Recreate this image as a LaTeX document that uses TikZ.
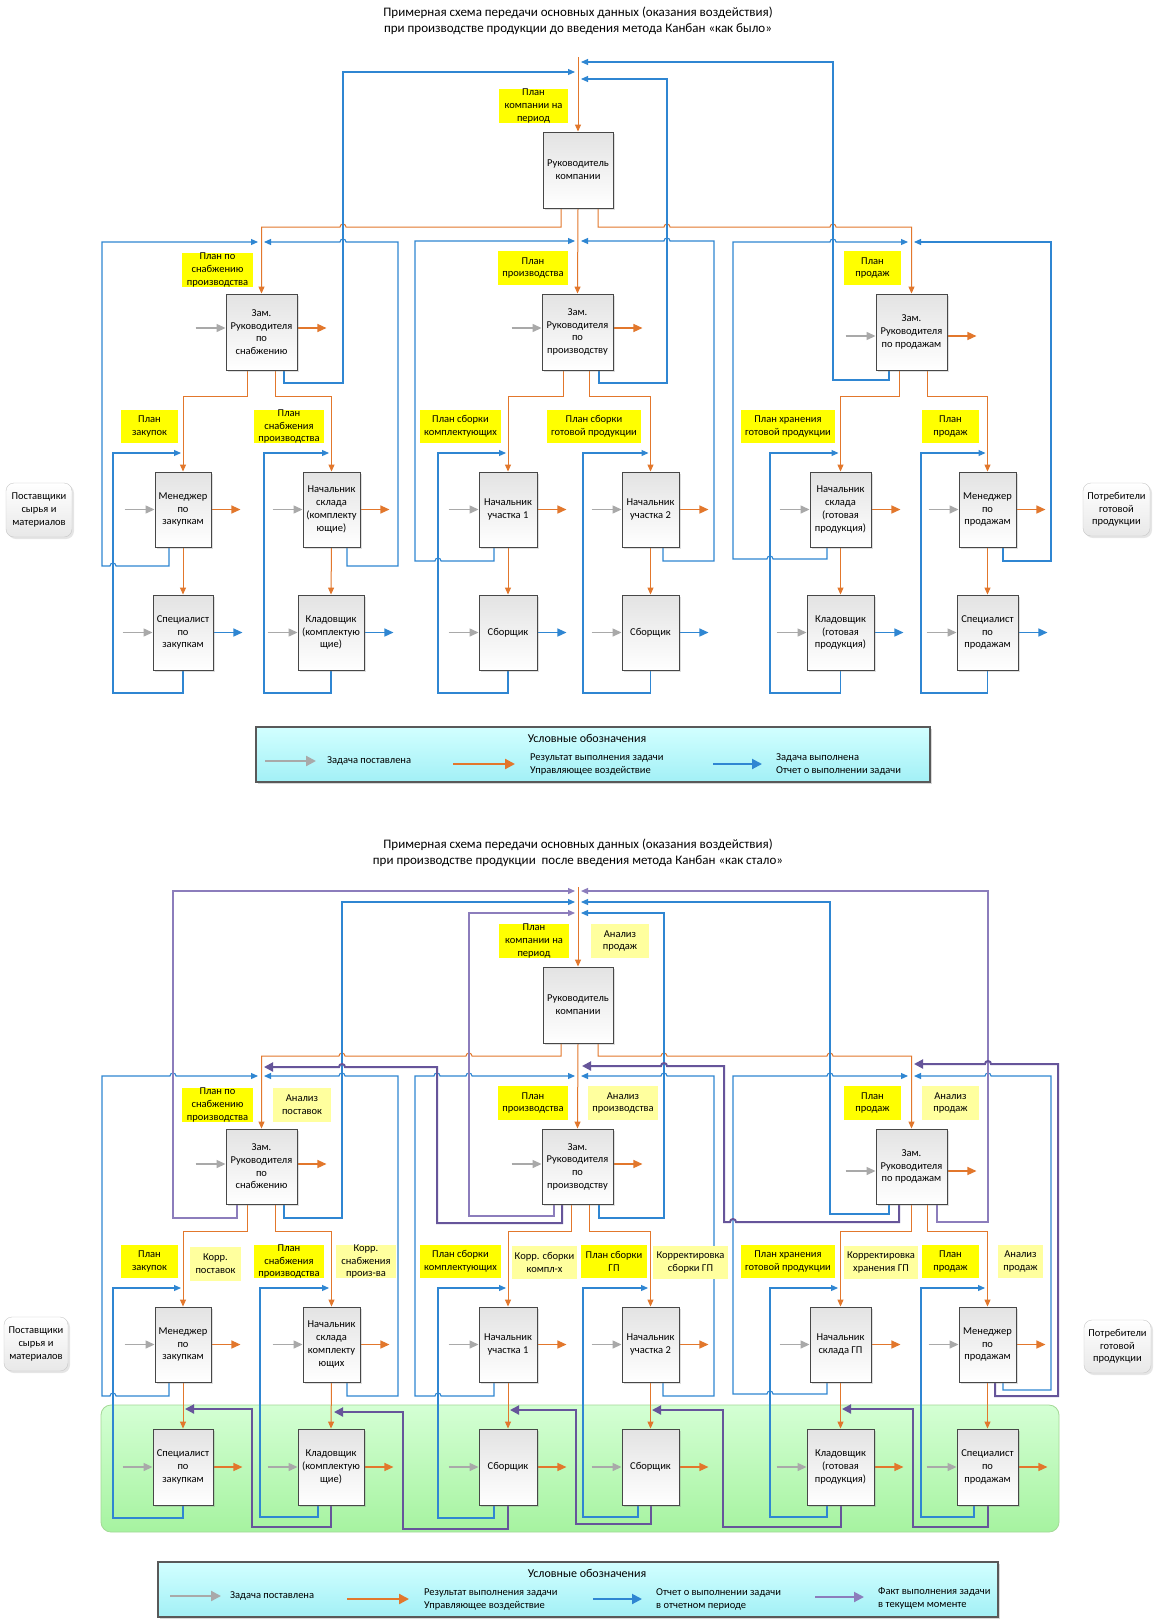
\documentclass[tikz,border=0pt]{standalone}
\usepackage{fontspec}
\setmainfont{Carlito}
\usetikzlibrary{arrows.meta,shadows}
\definecolor{cOr}{HTML}{E2772C}
\definecolor{cBl}{HTML}{2F86D2}
\definecolor{cPk}{HTML}{66559A}
\definecolor{cPt}{HTML}{8C7DBC}
\definecolor{cGr}{HTML}{A9A9A9}
\definecolor{cYe}{HTML}{FFFF00}
\definecolor{cYl}{HTML}{FFFF9E}
\definecolor{cLgT}{HTML}{D2FFFF}
\definecolor{cLgB}{HTML}{A2F0F6}
\definecolor{cGnT}{HTML}{D4FFD4}
\definecolor{cGnB}{HTML}{A6F3A0}
\definecolor{cGnD}{HTML}{A3D996}
\pgfdeclarelayer{zone}
\pgfdeclarelayer{lines}
\pgfsetlayers{zone,lines,main}
\newcommand\bx{\fontsize{10.5}{12.7}\selectfont}
\newcommand\ttl{\fontsize{13}{16}\selectfont}
\newcommand\lgt{\fontsize{12}{14}\selectfont}
\newcommand\mkn[7]{\node[#1,minimum width={(#5-#3)*1pt},minimum height={(#6-#4)*1pt}] (#2) at ({(#3+#5)/2},{(#4+#6)/2}) {#7};}
\newcommand\hopR[2]{-- ({#1-3},#2) arc[start angle=180,end angle=360,radius=3]}
\newcommand\hopL[2]{-- ({#1+3},#2) arc[start angle=0,end angle=-180,radius=3]}
\newcommand\stubs[3]{\draw[stG] ([xshift=-30pt,yshift=#3]#1.west) -- ([yshift=#3]#1.west);
  \draw[#2] ([yshift=#3]#1.east) -- ([xshift=29pt,yshift=#3]#1.east);}
\begin{document}
\begin{tikzpicture}[x=1pt,y=-1pt,
  bbox/.style={draw=black!72,line width=0.9pt,top color=black!11,bottom color=white,
    drop shadow={shadow xshift=2pt,shadow yshift=-2pt,opacity=0.25},align=center,inner sep=0pt,font=\bx},
  ylab/.style={fill=cYe,inner sep=0pt,align=center,font=\bx},
  ylabl/.style={fill=cYl,inner sep=0pt,align=center,font=\bx},
  endb/.style={draw=black!22,rounded corners=8pt,top color=white,bottom color=black!9,
    drop shadow={shadow xshift=2pt,shadow yshift=-2pt,opacity=0.2},align=center,inner sep=0pt,font=\bx},
  lgbox/.style={draw=black!65,line width=1.2pt,top color=cLgT,bottom color=cLgB,
    drop shadow={shadow xshift=2pt,shadow yshift=-2pt,opacity=0.3},inner sep=0pt},
  gzone/.style={draw=cGnD,line width=0.8pt,rounded corners=10pt,top color=cGnT,bottom color=cGnB,inner sep=0pt},
  atip/.style={-{Triangle[length=7pt,width=6pt]}},
  btip/.style={-{Triangle[length=9pt,width=8pt]}},
  lnO/.style={draw=cOr,line width=1pt,atip},
  lnB/.style={draw=cBl,line width=1.1pt,atip},
  lnPt/.style={draw=cPt,line width=1.2pt,atip},
  lnPk/.style={draw=cPk,line width=2pt,-{Triangle[length=9pt,width=9pt]}},
  stG/.style={draw=cGr,line width=1.3pt,btip},
  stO/.style={draw=cOr,line width=1.3pt,btip},
  stB/.style={draw=cBl,line width=1.3pt,btip},
  lgG/.style={draw=cGr,line width=2.2pt,-{Triangle[length=10pt,width=10pt]}},
  lgO/.style={draw=cOr,line width=2.2pt,-{Triangle[length=10pt,width=10pt]}},
  lgB/.style={draw=cBl,line width=2pt,-{Triangle[length=10pt,width=10pt]}},
  lgP/.style={draw=cPt,line width=2pt,-{Triangle[length=10pt,width=10pt]}},
  lgtxt/.style={anchor=west,align=left,font=\bx,inner sep=0pt}]
\useasboundingbox (0,0) rectangle (1156,1620);
\begin{pgfonlayer}{zone}
\fill[white] (0,0) rectangle (1156,1620);
\node[gzone,minimum width=958pt,minimum height=127pt] (zone) at (580,1468.5) {};
\end{pgfonlayer}

% ---------------- titles
\node[font=\ttl,align=center] (t1) at (578,21) {Примерная схема передачи основных данных (оказания воздействия)\\при производстве продукции до введения метода Канбан «как было»};
\node[font=\ttl,align=center] (t2) at (578,853) {Примерная схема передачи основных данных (оказания воздействия)\\при производстве продукции \ после введения метода Канбан «как стало»};

% ================= DIAGRAM 1 =================
\mkn{bbox}{aR}{543}{132}{613}{208}{Руководитель\\компании}
\mkn{bbox}{aZS}{226}{294}{297}{370}{Зам.\\Руководителя\\по\\снабжению}
\mkn{bbox}{aZP}{542}{294}{613}{370}{Зам.\\Руководителя\\по\\производству}
\mkn{bbox}{aZD}{876}{294}{947}{370}{Зам.\\Руководителя\\по продажам}
\mkn{bbox}{aMZ}{155}{472}{211}{547}{Менеджер\\по\\закупкам}
\mkn{bbox}{aNS}{303}{472}{360}{547}{Начальник\\склада\\(комплекту\\ющие)}
\mkn{bbox}{aN1}{479}{472}{537}{547}{Начальник\\участка 1}
\mkn{bbox}{aN2}{622}{472}{679}{547}{Начальник\\участка 2}
\mkn{bbox}{aNG}{810}{472}{871}{547}{Начальник\\склада\\(готовая\\продукция)}
\mkn{bbox}{aMD}{959}{472}{1016}{547}{Менеджер\\по\\продажам}
\mkn{bbox}{aSZ}{153}{595}{213}{670}{Специалист\\по\\закупкам}
\mkn{bbox}{aKK}{298}{595}{364}{670}{Кладовщик\\(комплектую\\щие)}
\mkn{bbox}{aS1}{479}{595}{537}{670}{Сборщик}
\mkn{bbox}{aS2}{622}{595}{679}{670}{Сборщик}
\mkn{bbox}{aKG}{807}{595}{874}{670}{Кладовщик\\(готовая\\продукция)}
\mkn{bbox}{aSD}{957}{595}{1018}{670}{Специалист\\по\\продажам}
\mkn{endb}{aSup}{6}{483}{72}{537}{Поставщики\\сырья и\\материалов}
\mkn{endb}{aCon}{1083}{483}{1150}{536}{Потребители\\готовой\\продукции}

\mkn{ylab}{aL0}{499}{89}{568}{123}{План\\компании на\\период}
\mkn{ylab}{aL1}{182}{253}{253}{287}{План по\\снабжению\\производства}
\mkn{ylab}{aL2}{498}{251}{568}{285}{План\\производства}
\mkn{ylab}{aL3}{844}{251}{901}{285}{План\\продаж}
\mkn{ylab}{aL4}{121}{410}{178}{443}{План\\закупок}
\mkn{ylab}{aL5}{254}{410}{324}{443}{План\\снабжения\\производства}
\mkn{ylab}{aL6}{420}{410}{501}{443}{План сборки\\комплектующих}
\mkn{ylab}{aL7}{547}{410}{641}{443}{План сборки\\готовой продукции}
\mkn{ylab}{aL8}{741}{410}{835}{443}{План хранения\\готовой продукции}
\mkn{ylab}{aL9}{922}{410}{979}{443}{План\\продаж}

\begin{pgfonlayer}{lines}
\coordinate (aIn) at (578,57);
\draw[lnO] (aIn) -- (aR.north);
\draw[lnO] (aR.south -| 561,0) -- (561,227) \hopL{343}{227} -- (aZS.north |- 0,227) -- (aZS.north);
\draw[lnO] (aR.south -| 598,0) -- (598,227) \hopR{667}{227} \hopR{833}{227} -- (aZD.north |- 0,227) -- (aZD.north);
\draw[lnO] (aR.south) -- (aZP.north);
\draw[lnO] (aZS.south -| 247,0) |- (aMZ.north |- 0,396) -- (aMZ.north);
\draw[lnO] (aZS.south -| 275,0) |- (aNS.north |- 0,396) -- (aNS.north);
\draw[lnO] (aZP.south -| 563,0) |- (aN1.north |- 0,396) -- (aN1.north);
\draw[lnO] (aZP.south -| 589,0) |- (aN2.north |- 0,396) -- (aN2.north);
\draw[lnO] (aZD.south -| 899,0) |- (aNG.north |- 0,396) -- (aNG.north);
\draw[lnO] (aZD.south -| 927,0) |- (aMD.north |- 0,396) -- (aMD.north);
\draw[lnO] (aMZ.south) -- (aSZ.north);
\draw[lnO] (aNS.south) -- (aKK.north);
\draw[lnO] (aN1.south) -- (aS1.north);
\draw[lnO] (aN2.south) -- (aS2.north);
\draw[lnO] (aNG.south) -- (aKG.north);
\draw[lnO] (aMD.south) -- (aSD.north);
% blue reports
\draw[lnB] (aZS.south -| 284,0) |- (343,383) -- (343,72) -- (575,72);
\draw[lnB] (aZP.south -| 599,0) |- (667,383) -- (667,79) -- (581,79);
\draw[lnB] (aZD.south -| 889,0) |- (833,380) -- (833,62) -- (581,62);
\draw[lnB] (aMZ.south -| 169,0) -- (169,566) \hopL{113}{566} -- (102,566) -- (102,242) -- (258,242);
\draw[lnB] (aNS.south -| 347,0) |- (398,566) -- (398,242) \hopL{343}{242} -- (264,242);
\draw[lnB] (aN1.south -| 494,0) -- (494,561) \hopL{438}{561} -- (415,561) -- (415,241) -- (575,241);
\draw[lnB] (aN2.south -| 663,0) |- (714,561) -- (714,241) \hopL{667}{241} -- (581,241);
\draw[lnB] (aNG.south -| 827,0) -- (827,559) \hopL{770}{559} -- (733,559) -- (733,242) \hopR{833}{242} -- (908,242);
\draw[lnB] (aMD.south -| 1003,0) |- (1051,561) -- (1051,242) -- (914,242);
\draw[lnB] (aSZ.south) |- (113,693) |- (181,453);
\draw[lnB] (aKK.south) |- (264,693) |- (329,453);
\draw[lnB] (aS1.south) |- (438,693) |- (506,453);
\draw[lnB] (aS2.south) |- (583,693) |- (648.5,453);
\draw[lnB] (aKG.south) |- (770,693) |- (838.5,453);
\draw[lnB] (aSD.south) |- (921,693) |- (985.5,453);
% stubs
\stubs{aZS}{stO}{4pt}
\stubs{aZP}{stO}{4pt}
\stubs{aZD}{stO}{-4pt}
\stubs{aMZ}{stO}{0pt}
\stubs{aNS}{stO}{0pt}
\stubs{aN1}{stO}{0pt}
\stubs{aN2}{stO}{0pt}
\stubs{aNG}{stO}{0pt}
\stubs{aMD}{stO}{0pt}
\stubs{aSZ}{stB}{0pt}
\stubs{aKK}{stB}{0pt}
\stubs{aS1}{stB}{0pt}
\stubs{aS2}{stB}{0pt}
\stubs{aKG}{stB}{0pt}
\stubs{aSD}{stB}{0pt}
\end{pgfonlayer}

% legend 1
\node[lgbox,minimum width=674pt,minimum height=55pt] (aLeg) at (593,754.5) {};
\node[font=\lgt] (aLegT) at (587,738) {Условные обозначения};
\coordinate (aG1) at (265,761); \coordinate (aG2) at (316,761);
\coordinate (aO1) at (453,764); \coordinate (aO2) at (515,764);
\coordinate (aB1) at (713,764); \coordinate (aB2) at (762,764);
\draw[lgG] (aG1) -- (aG2);
\draw[lgO] (aO1) -- (aO2);
\draw[lgB] (aB1) -- (aB2);
\node[lgtxt] (aLt1) at (327,761) {Задача поставлена};
\node[lgtxt] (aLt2) at (530,764.5) {Результат выполнения задачи\\Управляющее воздействие};
\node[lgtxt] (aLt3) at (776,764.5) {Задача выполнена\\Отчет о выполнении задачи};

% ================= DIAGRAM 2 =================
\mkn{bbox}{bR}{543}{967}{613}{1043}{Руководитель\\компании}
\mkn{bbox}{bZS}{226}{1129}{297}{1204}{Зам.\\Руководителя\\по\\снабжению}
\mkn{bbox}{bZP}{542}{1129}{613}{1204}{Зам.\\Руководителя\\по\\производству}
\mkn{bbox}{bZD}{876}{1129}{947}{1204}{Зам.\\Руководителя\\по продажам}
\mkn{bbox}{bMZ}{155}{1307}{211}{1382}{Менеджер\\по\\закупкам}
\mkn{bbox}{bNS}{303}{1307}{360}{1382}{Начальник\\склада\\комплекту\\ющих}
\mkn{bbox}{bN1}{479}{1307}{537}{1382}{Начальник\\участка 1}
\mkn{bbox}{bN2}{622}{1307}{679}{1382}{Начальник\\участка 2}
\mkn{bbox}{bNG}{810}{1307}{871}{1382}{Начальник\\склада ГП}
\mkn{bbox}{bMD}{959}{1307}{1016}{1382}{Менеджер\\по\\продажам}
\mkn{bbox}{bSZ}{153}{1429}{213}{1505}{Специалист\\по\\закупкам}
\mkn{bbox}{bKK}{298}{1429}{364}{1505}{Кладовщик\\(комплектую\\щие)}
\mkn{bbox}{bS1}{479}{1429}{537}{1505}{Сборщик}
\mkn{bbox}{bS2}{622}{1429}{679}{1505}{Сборщик}
\mkn{bbox}{bKG}{807}{1429}{874}{1505}{Кладовщик\\(готовая\\продукция)}
\mkn{bbox}{bSD}{957}{1429}{1018}{1505}{Специалист\\по\\продажам}
\mkn{endb}{bSup}{4}{1317}{68}{1371}{Поставщики\\сырья и\\материалов}
\mkn{endb}{bCon}{1084}{1320}{1151}{1373}{Потребители\\готовой\\продукции}

\mkn{ylab}{bL0}{499}{924}{569}{958}{План\\компании на\\период}
\mkn{ylabl}{bA0}{591}{924}{649}{958}{Анализ\\продаж}
\mkn{ylab}{bL1}{182}{1088}{253}{1122}{План по\\снабжению\\производства}
\mkn{ylabl}{bA1}{273}{1088}{331}{1122}{Анализ\\поставок}
\mkn{ylab}{bL2}{498}{1086}{568}{1120}{План\\производства}
\mkn{ylabl}{bA2}{588}{1086}{658}{1120}{Анализ\\производства}
\mkn{ylab}{bL3}{844}{1086}{901}{1120}{План\\продаж}
\mkn{ylabl}{bA3}{922}{1086}{979}{1120}{Анализ\\продаж}
\mkn{ylab}{bL4}{121}{1245}{178}{1278}{План\\закупок}
\mkn{ylabl}{bA4}{190}{1247}{241}{1281}{Корр.\\поставок}
\mkn{ylab}{bL5}{254}{1245}{324}{1278}{План\\снабжения\\производства}
\mkn{ylabl}{bA5}{336}{1245}{396}{1278}{Корр.\\снабжения\\произ-ва}
\mkn{ylab}{bL6}{420}{1245}{501}{1278}{План сборки\\комплектующих}
\mkn{ylabl}{bA6}{512}{1246}{577}{1279}{Корр. сборки\\компл-х}
\mkn{ylab}{bL7}{581}{1245}{647}{1278}{План сборки\\ГП}
\mkn{ylabl}{bA7}{653}{1246}{728}{1279}{Корректировка\\сборки ГП}
\mkn{ylab}{bL8}{741}{1245}{835}{1278}{План хранения\\готовой продукции}
\mkn{ylabl}{bA8}{844}{1246}{918}{1279}{Корректировка\\хранения ГП}
\mkn{ylab}{bL9}{922}{1245}{979}{1278}{План\\продаж}
\mkn{ylabl}{bA9}{998}{1245}{1043}{1278}{Анализ\\продаж}

\begin{pgfonlayer}{lines}
\coordinate (bIn) at (578,887);
\draw[lnO] (bIn) -- (bR.north);
\draw[lnO] (bR.south -| 561,0) -- (561,1056) \hopL{469}{1056} \hopL{342}{1056} -- (bZS.north |- 0,1056) -- (bZS.north);
\draw[lnO] (bR.south -| 598,0) -- (598,1056) \hopR{664}{1056} \hopR{830}{1056} -- (bZD.north |- 0,1056) -- (bZD.north);
\draw[lnO] (bR.south) -- (bZP.north);
\draw[lnO] (bZS.south -| 247,0) |- (bMZ.north |- 0,1231) -- (bMZ.north);
\draw[lnO] (bZS.south -| 275,0) |- (bNS.north |- 0,1231) -- (bNS.north);
\draw[lnO] (bZP.south -| 571,0) |- (bN1.north |- 0,1231) -- (bN1.north);
\draw[lnO] (bZP.south -| 589,0) |- (bN2.north |- 0,1231) -- (bN2.north);
\draw[lnO] (bZD.south -| 911,0) |- (bNG.north |- 0,1231) -- (bNG.north);
\draw[lnO] (bZD.south -| 927,0) |- (bMD.north |- 0,1231) -- (bMD.north);
\draw[lnO] (bMZ.south) -- (bSZ.north);
\draw[lnO] (bNS.south) -- (bKK.north);
\draw[lnO] (bN1.south) -- (bS1.north);
\draw[lnO] (bN2.south) -- (bS2.north);
\draw[lnO] (bNG.south) -- (bKG.north);
\draw[lnO] (bMD.south) -- (bSD.north);
% blue
\draw[lnB] (bZS.south -| 284,0) |- (342,1218) -- (342,902) -- (575,902);
\draw[lnB] (bZP.south -| 599,0) |- (664,1218) -- (664,913) -- (581,913);
\draw[lnB] (bZD.south -| 889,0) |- (830,1214) -- (830,902) -- (581,902);
\draw[lnB] (bMZ.south -| 169,0) -- (169,1396) \hopL{113}{1396} -- (102,1396) -- (102,1076) \hopR{173}{1076} -- (258,1076);
\draw[lnB] (bNS.south -| 347,0) |- (398,1396) -- (398,1076) \hopL{342}{1076} -- (264,1076);
\draw[lnB] (bN1.south -| 494,0) -- (494,1396) \hopL{438}{1396} -- (415,1396) -- (415,1076) \hopR{437}{1076} \hopR{469}{1076} -- (575,1076);
\draw[lnB] (bN2.south -| 663,0) |- (714,1396) -- (714,1076) \hopL{664}{1076} -- (581,1076);
\draw[lnB] (bNG.south -| 827,0) -- (827,1394) \hopL{770}{1394} -- (733,1394) -- (733,1076) \hopR{830}{1076} -- (908,1076);
\draw[lnB] (bMD.south -| 1003,0) |- (1051,1390) -- (1051,1076) \hopL{988}{1076} -- (914,1076);
\draw[lnB] (bSZ.south) |- (113,1518) |- (181,1288);
\draw[lnB] (bKK.south -| 318,0) |- (260,1517) |- (329,1288);
\draw[lnB] (bS1.south -| 494,0) |- (438,1518) |- (506,1288);
\draw[lnB] (bS2.south -| 638,0) |- (583,1517) |- (648,1288);
\draw[lnB] (bKG.south -| 827,0) |- (770,1517) |- (838,1288);
\draw[lnB] (bSD.south -| 974,0) |- (921,1517) |- (985,1288);
% purple thin
\draw[lnPt] (bZS.south -| 237,0) |- (173,1218) |- (575,891);
\draw[lnPt] (bZP.south -| 554,0) |- (469,1216) |- (575,913);
\draw[lnPt] (bZD.south -| 937,0) |- (988,1222) |- (581,891);
% purple thick
\draw[lnPk] (bZP.south -| 562,0) |- (437,1223) -- (437,1067) \hopL{342}{1067} -- (264,1067);
\draw[lnPk] (bZD.south -| 899,0) -- (899,1222) \hopL{733}{1222} -- (724,1222) -- (724,1066) \hopL{664}{1066} -- (582,1066);
\draw[lnPk] (bMD.south -| 995,0) |- (1058,1396) -- (1058,1064) \hopL{988}{1064} -- (914,1064);
\draw[lnPk] (bKK.south) |- (252,1527) |- (185,1409);
\draw[lnPk] (bS1.south) |- (403,1529) |- (334,1412);
\draw[lnPk] (bS2.south) |- (576,1524) |- (510,1410);
\draw[lnPk] (bKG.south) |- (723,1527) |- (652,1410);
\draw[lnPk] (bSD.south) |- (913,1527) |- (842,1409);
% stubs
\stubs{bZS}{stO}{2.5pt}
\stubs{bZP}{stO}{2.5pt}
\stubs{bZD}{stO}{-4.5pt}
\stubs{bMZ}{stO}{0pt}
\stubs{bNS}{stO}{0pt}
\stubs{bN1}{stO}{0pt}
\stubs{bN2}{stO}{0pt}
\stubs{bNG}{stO}{0pt}
\stubs{bMD}{stO}{0pt}
\stubs{bSZ}{stO}{0pt}
\stubs{bKK}{stO}{0pt}
\stubs{bS1}{stO}{0pt}
\stubs{bS2}{stO}{0pt}
\stubs{bKG}{stO}{0pt}
\stubs{bSD}{stO}{0pt}
\end{pgfonlayer}

% legend 2
\node[lgbox,minimum width=840pt,minimum height=55pt] (bLeg) at (578,1589.5) {};
\node[font=\lgt] (bLegT) at (587,1573) {Условные обозначения};
\coordinate (bG1) at (170,1596); \coordinate (bG2) at (221,1596);
\coordinate (bO1) at (347,1599); \coordinate (bO2) at (409,1599);
\coordinate (bB1) at (593,1599); \coordinate (bB2) at (642,1599);
\coordinate (bP1) at (815,1597); \coordinate (bP2) at (864,1597);
\draw[lgG] (bG1) -- (bG2);
\draw[lgO] (bO1) -- (bO2);
\draw[lgB] (bB1) -- (bB2);
\draw[lgP] (bP1) -- (bP2);
\node[lgtxt] (bLt1) at (230,1596) {Задача поставлена};
\node[lgtxt] (bLt2) at (424,1599.5) {Результат выполнения задачи\\Управляющее воздействие};
\node[lgtxt] (bLt3) at (656,1599.5) {Отчет о выполнении задачи\\в отчетном периоде};
\node[lgtxt] (bLt4) at (878,1598.5) {Факт выполнения задачи\\в текущем моменте};
\end{tikzpicture}
\end{document}
